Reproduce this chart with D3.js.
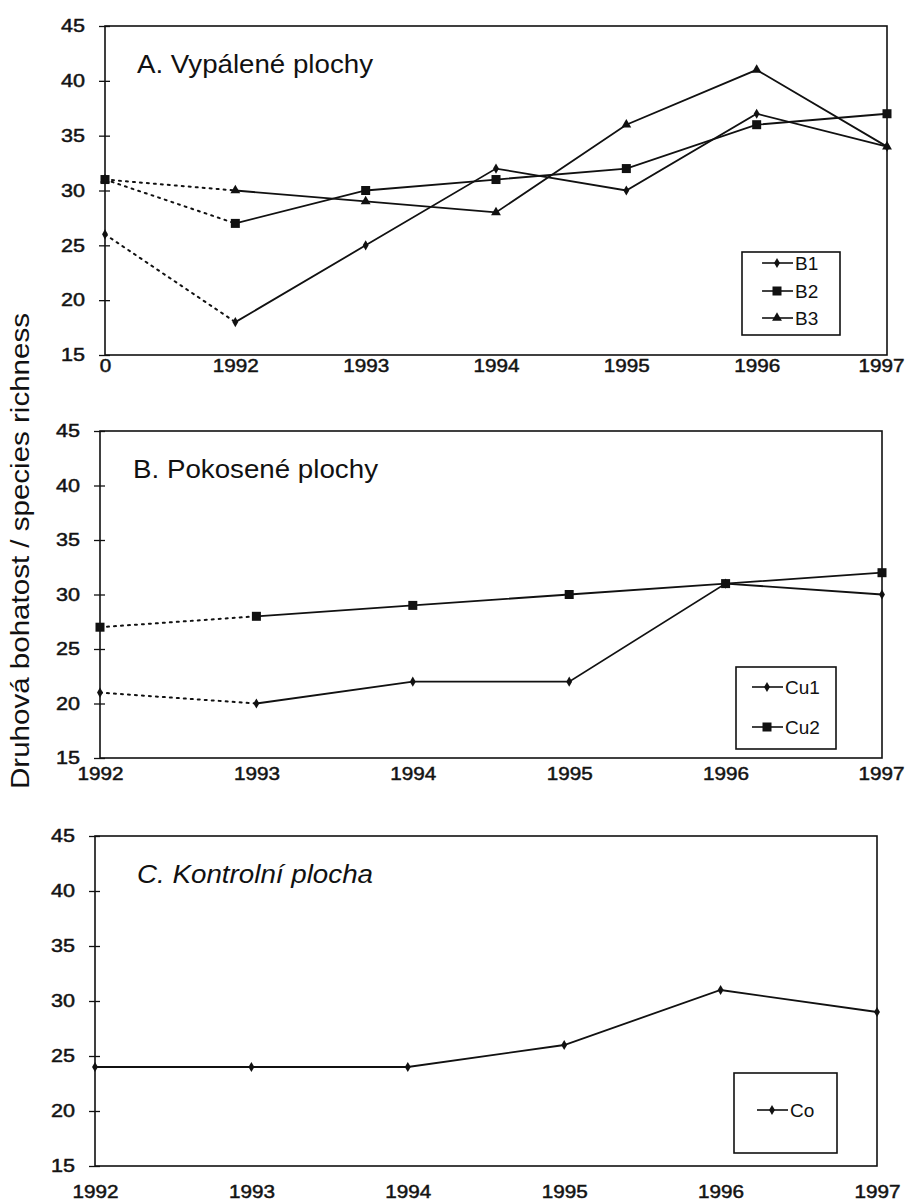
<!DOCTYPE html>
<html>
<head>
<meta charset="utf-8">
<title>Druhová bohatost</title>
<style>
  body { margin: 0; background: #fff; }
  text { font-family: "Liberation Sans", Arial, sans-serif; fill: #111; }
</style>
</head>
<body>
<script src="https://d3js.org/d3.v7.min.js"></script>
<script>
// kategorie na ose x
var catsA = ["0", "1992", "1993", "1994", "1995", "1996", "1997"];
var catsB = ["1992", "1993", "1994", "1995", "1996", "1997"];
var catsC = ["1992", "1993", "1994", "1995", "1996", "1997"];

// A. Vypálené plochy
var b1 = [26, 18, 25, 32, 30, 37, 34];
var b2 = [31, 27, 30, 31, 32, 36, 37];
var b3 = [31, 30, 29, 28, 36, 41, 34];
// B. Pokosené plochy
var cu1 = [21, 20, 22, 22, 31, 30];
var cu2 = [27, 28, 29, 30, 31, 32];
// C. Kontrolní plocha
var co = [24, 24, 24, 26, 31, 29];

var yTicks = [15, 20, 25, 30, 35, 40, 45];

var width = 907, height = 1201;
var svg = d3.select("body").append("svg").attr("width", width).attr("height", height);

var panels = [
  {title: "A. Vypálené plochy", italic: false, tx: 137, tw: 236, cats: catsA, x0: 105, x1: 887, y0: 26, y1: 355, lab: 367,
   series: [{name: "B1", v: b1, m: "diamond"}, {name: "B2", v: b2, m: "square"}, {name: "B3", v: b3, m: "triangle"}],
   legend: {x: 742, y: 252, w: 98, h: 83, lx: 20, rows: [263, 291, 318]}},
  {title: "B. Pokosené plochy", italic: false, tx: 133, tw: 245, cats: catsB, x0: 100, x1: 882, y0: 431, y1: 758, lab: 775,
   series: [{name: "Cu1", v: cu1, m: "diamond"}, {name: "Cu2", v: cu2, m: "square"}],
   legend: {x: 736, y: 667, w: 100, h: 82, lx: 16, rows: [687, 727]}},
  {title: "C. Kontrolní plocha", italic: true, tx: 137, tw: 236, cats: catsC, x0: 95, x1: 877, y0: 836, y1: 1166, lab: 1193,
   series: [{name: "Co", v: co, m: "diamond"}],
   legend: {x: 734, y: 1073, w: 103, h: 80, lx: 23, rows: [1110]}}
];

function marker(g, type, x, y) {
  if (type === "square") {
    g.append("rect").attr("x", x - 4.5).attr("y", y - 4.5).attr("width", 9).attr("height", 9).attr("fill", "#111");
  } else if (type === "triangle") {
    g.append("path").attr("d", d3.symbol().type(d3.symbolTriangle).size(42)()).attr("transform", "translate(" + x + "," + y + ")").attr("fill", "#111");
  } else {
    g.append("path").attr("d", d3.symbol().type(d3.symbolDiamond).size(30)()).attr("transform", "translate(" + x + "," + y + ")").attr("fill", "#111");
  }
}

function styleTick(sel, per) {
  sel.attr("font-size", 18).attr("font-weight", "normal").attr("fill", "#1a1a1a")
    .attr("stroke", "#1a1a1a").attr("stroke-width", 0.5)
    .attr("font-family", "Liberation Sans, Arial, sans-serif")
    .attr("lengthAdjust", "spacingAndGlyphs")
    .attr("textLength", function(d) { return String(d).length * per; });
}

panels.forEach(function(p) {
  var g = svg.append("g");
  var x = d3.scalePoint().domain(p.cats).range([p.x0, p.x1]);
  var y = d3.scaleLinear().domain([15, 45]).range([p.y1, p.y0]);

  // rámeček
  g.append("rect").attr("x", p.x0).attr("y", p.y0).attr("width", p.x1 - p.x0).attr("height", p.y1 - p.y0)
    .attr("fill", "none").attr("stroke", "#111").attr("stroke-width", 1.6);

  // osa y
  var ya = g.append("g").attr("transform", "translate(" + p.x0 + ",0)")
    .call(d3.axisLeft(y).tickValues(yTicks).tickSize(6).tickPadding(14));
  ya.select(".domain").remove();
  ya.selectAll(".tick line").attr("x2", -6).attr("x1", 5).attr("stroke", "#111").attr("stroke-width", 1.3);
  styleTick(ya.selectAll(".tick text"), 12);

  // osa x
  var xa = g.append("g").attr("transform", "translate(0," + p.y1 + ")")
    .call(d3.axisBottom(x).tickSize(0).tickPadding(p.lab - p.y1));
  xa.select(".domain").remove();
  styleTick(xa.selectAll(".tick text"), 11.5);
  xa.selectAll(".tick text").attr("dy", "0.3em")
    .attr("x", function(d) { return Math.min(0, 904 - String(d).length * 5.75 - x(d)); });

  // nadpis
  g.append("text").attr("x", p.tx).attr("y", p.y0 + 47).attr("font-size", 25)
    .attr("textLength", p.tw).attr("lengthAdjust", "spacingAndGlyphs")
    .attr("font-style", p.italic ? "italic" : "normal").text(p.title);

  var line = d3.line().x(function(d) { return x(d.c); }).y(function(d) { return y(d.v); });

  p.series.forEach(function(s) {
    var pts = s.v.map(function(v, i) { return {c: p.cats[i], v: v}; });
    var dotted = (p.series.length > 1) ? pts.slice(0, 2) : [];
    var solid = (p.series.length > 1) ? pts.slice(1) : pts;
    if (dotted.length) {
      g.append("path").attr("d", line(dotted)).attr("fill", "none").attr("stroke", "#111")
        .attr("stroke-width", 2).attr("stroke-dasharray", "2,5").attr("stroke-linecap", "round");
    }
    g.append("path").attr("d", line(solid)).attr("fill", "none").attr("stroke", "#111").attr("stroke-width", 1.8);
    pts.forEach(function(d) { marker(g, s.m, x(d.c), y(d.v)); });
  });

  // legenda
  var L = p.legend;
  g.append("rect").attr("x", L.x).attr("y", L.y).attr("width", L.w).attr("height", L.h)
    .attr("fill", "#fff").attr("stroke", "#111").attr("stroke-width", 1.6);
  p.series.forEach(function(s, i) {
    var ry = L.rows[i];
    var lx = L.x + L.lx;
    g.append("line").attr("x1", lx).attr("x2", lx + 31).attr("y1", ry).attr("y2", ry)
      .attr("stroke", "#111").attr("stroke-width", 1.6);
    marker(g, s.m, lx + 15, ry);
    g.append("text").attr("x", lx + 33).attr("y", ry).attr("dy", "0.35em").attr("font-size", 19).text(s.name);
  });
});

// společný popis osy y
svg.append("text").attr("transform", "translate(29,551) rotate(-90)").attr("text-anchor", "middle")
  .attr("font-size", 25).attr("textLength", 476).attr("lengthAdjust", "spacingAndGlyphs")
  .text("Druhová bohatost / species richness");
</script>
</body>
</html>
